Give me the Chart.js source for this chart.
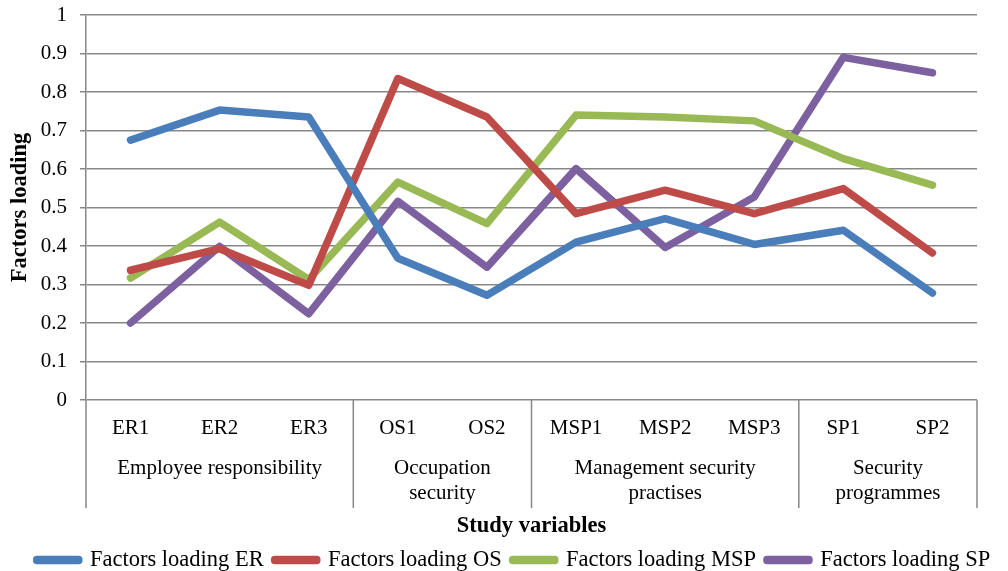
<!DOCTYPE html>
<html>
<head>
<meta charset="utf-8">
<script src="https://cdn.jsdelivr.net/npm/chart.js@4.4.1/dist/chart.umd.min.js"></script>
<style>
  html, body { margin: 0; padding: 0; background: #ffffff; }
  #wrap { width: 1008px; height: 571px; }
</style>
</head>
<body>
<div id="wrap"><canvas id="c" width="1008" height="571"></canvas></div>
<script>
// ---- data ----
const categories = ['ER1', 'ER2', 'ER3', 'OS1', 'OS2', 'MSP1', 'MSP2', 'MSP3', 'SP1', 'SP2'];
const groupLabels = [
  ['Employee responsibility'],
  ['Occupation', 'security'],
  ['Management security', 'practises'],
  ['Security', 'programmes']
];
const groupSizes = [3, 2, 3, 2];
const seriesNames = ['Factors loading ER', 'Factors loading OS', 'Factors loading MSP', 'Factors loading SP'];
const loadingER  = [0.675, 0.753, 0.735, 0.368, 0.272, 0.410, 0.471, 0.404, 0.441, 0.278];
const loadingOS  = [0.337, 0.393, 0.298, 0.835, 0.735, 0.484, 0.545, 0.484, 0.549, 0.382];
const loadingMSP = [0.317, 0.462, 0.313, 0.566, 0.458, 0.740, 0.735, 0.725, 0.627, 0.558];
const loadingSP  = [0.200, 0.399, 0.224, 0.516, 0.345, 0.601, 0.396, 0.527, 0.890, 0.850];
const yTickStep = 0.1;
const yMin = 0, yMax = 1;

// ---- styles ----
const colors = ['#4A7EBB', '#BE4B48', '#98B954', '#7D60A0'];
const gridColor = '#878787';
const serif = "'Liberation Serif', 'Times New Roman', serif";

Chart.defaults.font.family = serif;
Chart.defaults.color = '#000000';

const allSeries = [loadingER, loadingOS, loadingMSP, loadingSP];
const datasets = allSeries.map((vals, i) => ({
  label: seriesNames[i],
  data: vals,
  borderColor: colors[i],
  backgroundColor: colors[i],
  borderWidth: 7.5,
  borderCapStyle: 'round',
  borderJoinStyle: 'round',
  pointRadius: 0,
  pointHoverRadius: 0,
  tension: 0,
  fill: false
}));

const SHIFT = 10.25;

const groupPlugin = {
  id: 'groupAxis',
  afterLayout(chart) {
    const lg = chart.legend;
    if (lg) {
      const w = lg.right - lg.left;
      lg.left = 25.75;
      lg.right = lg.left + w;
      lg.top += SHIFT;
      lg.bottom += SHIFT;
    }
    const xs = chart.scales.x;
    xs.bottom += SHIFT;
    xs.height += SHIFT;
  },
  afterDraw(chart) {
    const xs = chart.scales.x;
    const ctx = chart.ctx;
    const n = categories.length;
    const band = (xs.right - xs.left) / n;
    const start = xs.getPixelForValue(0) - band / 2;
    const top = chart.chartArea.bottom;
    ctx.save();
    ctx.strokeStyle = gridColor;
    ctx.lineWidth = 1.5;
    const bounds = [0];
    let k = 0;
    groupSizes.forEach(s => { k += s; bounds.push(k); });
    bounds.forEach(b => {
      const x = start + b * band;
      ctx.beginPath();
      ctx.moveTo(x, top);
      ctx.lineTo(x, top + 108);
      ctx.stroke();
    });
    ctx.fillStyle = '#000000';
    ctx.font = '21px ' + serif;
    ctx.textAlign = 'center';
    ctx.textBaseline = 'middle';
    for (let g = 0; g < groupSizes.length; g++) {
      const cx = start + (bounds[g] + bounds[g + 1]) / 2 * band;
      groupLabels[g].forEach((line, li) => {
        ctx.fillText(line, cx, top + 68 + li * 25);
      });
    }
    ctx.restore();
  }
};

new Chart(document.getElementById('c'), {
  type: 'line',
  data: { labels: categories, datasets: datasets },
  options: {
    responsive: false,
    animation: false,
    devicePixelRatio: 1,
    layout: { padding: { top: 15, right: 0, bottom: 0, left: 0 } },
    plugins: {
      legend: {
        position: 'bottom',
        align: 'start',
        labels: {
          font: { size: 22.5, family: serif },
          color: '#000000',
          boxWidth: 42,
          boxHeight: 1,
          padding: 11
        }
      },
      tooltip: { enabled: false }
    },
    scales: {
      x: {
        type: 'category',
        offset: true,
        grid: { display: false, drawTicks: false },
        border: { display: false },
        ticks: { font: { size: 21, family: serif }, color: '#000000', padding: 16, maxRotation: 0, autoSkip: false },
        title: {
          display: true,
          text: 'Study variables',
          font: { size: 22.5, weight: 'bold', family: serif, lineHeight: 1 },
          color: '#000000',
          padding: { top: 0, bottom: 0 }
        },
        afterFit(s) { s.height = 127.5; }
      },
      y: {
        min: yMin,
        max: yMax,
        ticks: {
          stepSize: yTickStep,
          font: { size: 21, family: serif },
          color: '#000000',
          padding: 13,
          callback: v => String(+(+v).toFixed(1))
        },
        grid: { color: gridColor, lineWidth: 1.5, tickLength: 6, drawTicks: true },
        border: { display: true, color: gridColor, width: 1.5 },
        title: {
          display: true,
          text: 'Factors loading',
          font: { size: 22.5, weight: 'bold', family: serif },
          color: '#000000',
          padding: { top: 6.5, bottom: 0 }
        },
        afterFit(s) { s.width = 86; s.paddingTop = 0; s.paddingBottom = 0; }
      },
      yRight: {
        position: 'right',
        display: true,
        grid: { display: false, drawTicks: false },
        border: { display: false },
        ticks: { display: false },
        afterFit(s) { s.width = 31; s.paddingTop = 0; s.paddingBottom = 0; }
      }
    }
  },
  plugins: [groupPlugin]
});
</script>
</body>
</html>
